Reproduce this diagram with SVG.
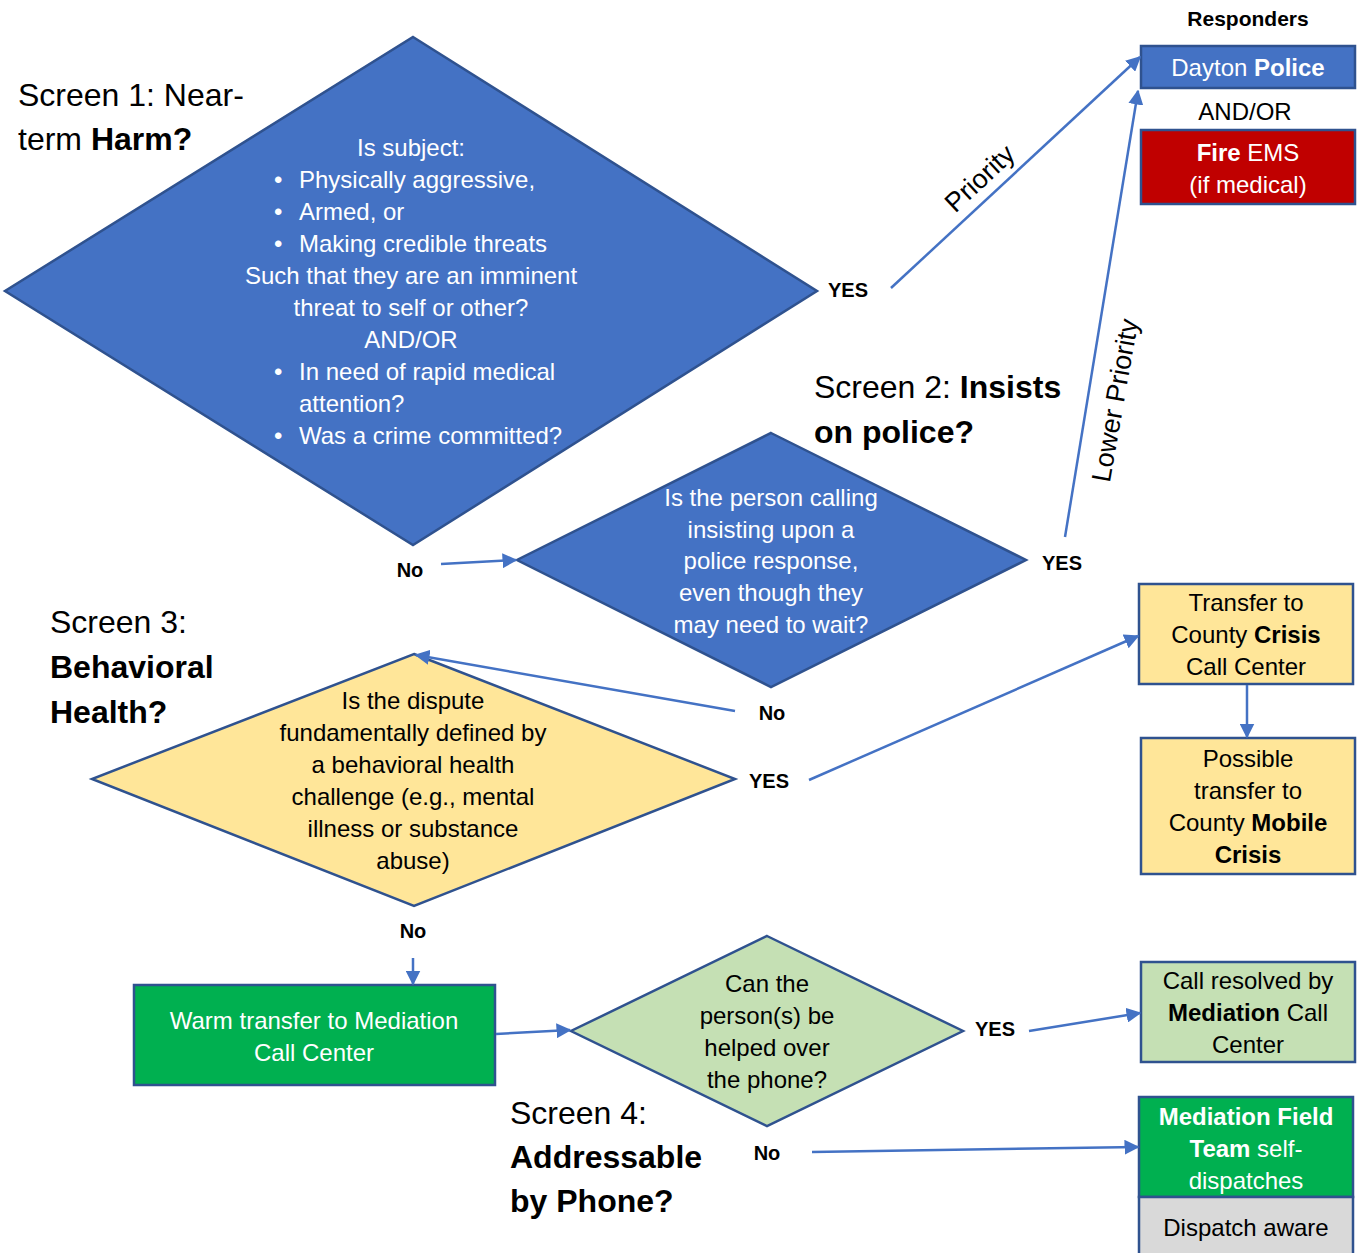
<svg xmlns="http://www.w3.org/2000/svg" width="1361" height="1253" viewBox="0 0 1361 1253">
<defs>
<marker id="ah" viewBox="0 0 10 10" refX="9" refY="5" markerWidth="6" markerHeight="6" markerUnits="strokeWidth" orient="auto">
<path d="M0,0 L10,5 L0,10 z" fill="#4472C4"/>
</marker>
<style>
text{font-family:"Liberation Sans",Arial,sans-serif;}
.t{font-size:24px;text-anchor:middle;}
.w{fill:#FFFFFF;}
.k{fill:#000000;}
.b{font-weight:bold;}
.lbl{font-size:20px;font-weight:bold;text-anchor:middle;fill:#000;}
.ttl{font-size:32px;fill:#000;}
.shape{stroke:#2F528F;stroke-width:2.5;}
.conn line{stroke:#4472C4;stroke-width:2.5;marker-end:url(#ah);}
.rot{font-size:27px;text-anchor:middle;fill:#000;}
</style>
</defs>
<rect width="1361" height="1253" fill="#FFFFFF"/>

<g id="titles">
<text class="ttl" x="18" y="106">Screen 1: Near-</text>
<text class="ttl" x="18" y="150">term <tspan class="b">Harm?</tspan></text>
<text class="ttl" x="814" y="398">Screen 2: <tspan class="b">Insists</tspan></text>
<text class="ttl b" x="814" y="443">on police?</text>
<text class="ttl" x="50" y="633">Screen 3:</text>
<text class="ttl b" x="50" y="678">Behavioral</text>
<text class="ttl b" x="50" y="723">Health?</text>
<text class="ttl" x="510" y="1124">Screen 4:</text>
<text class="ttl b" x="510" y="1168">Addressable</text>
<text class="ttl b" x="510" y="1212">by Phone?</text>
<text x="1248" y="26" font-size="21" font-weight="bold" text-anchor="middle">Responders</text>
</g>

<g id="screen1">
<polygon class="shape" points="413,37 817,291 413,545 5,291" fill="#4472C4"/>
<text class="t w" x="411" y="156">Is subject:</text>
<g style="text-anchor:start" font-size="24" fill="#fff">
<text x="274" y="188">•</text><text x="299" y="188">Physically aggressive,</text>
<text x="274" y="220">•</text><text x="299" y="220">Armed, or</text>
<text x="274" y="252">•</text><text x="299" y="252">Making credible threats</text>
</g>
<text class="t w" x="411" y="284">Such that they are an imminent</text>
<text class="t w" x="411" y="316">threat to self or other?</text>
<text class="t w" x="411" y="348">AND/OR</text>
<g style="text-anchor:start" font-size="24" fill="#fff">
<text x="274" y="380">•</text><text x="299" y="380">In need of rapid medical</text>
<text x="299" y="412">attention?</text>
<text x="274" y="444">•</text><text x="299" y="444">Was a crime committed?</text>
</g>
</g>

<g id="screen2">
<polygon class="shape" points="771,433 1026,560 771,687 517,560" fill="#4472C4"/>
<text class="t w" x="771" y="506">Is the person calling</text>
<text class="t w" x="771" y="538">insisting upon a</text>
<text class="t w" x="771" y="569">police response,</text>
<text class="t w" x="771" y="601">even though they</text>
<text class="t w" x="771" y="633">may need to wait?</text>
</g>

<g id="screen3">
<polygon class="shape" points="414,654 735,779 414,906 92,779" fill="#FFE699"/>
<text class="t k" x="413" y="709">Is the dispute</text>
<text class="t k" x="413" y="741">fundamentally defined by</text>
<text class="t k" x="413" y="773">a behavioral health</text>
<text class="t k" x="413" y="805">challenge (e.g., mental</text>
<text class="t k" x="413" y="837">illness or substance</text>
<text class="t k" x="413" y="869">abuse)</text>
</g>

<g id="screen4">
<polygon class="shape" points="767,936 963,1031 767,1126 571,1031" fill="#C5E0B4"/>
<text class="t k" x="767" y="992">Can the</text>
<text class="t k" x="767" y="1024">person(s) be</text>
<text class="t k" x="767" y="1056">helped over</text>
<text class="t k" x="767" y="1088">the phone?</text>
</g>

<g id="warm-transfer">
<rect class="shape" x="134" y="985" width="361" height="100" fill="#00B050"/>
<text class="t w" x="314" y="1029">Warm transfer to Mediation</text>
<text class="t w" x="314" y="1061">Call Center</text>
</g>

<g id="dayton-police">
<rect class="shape" x="1141" y="46" width="214" height="42" fill="#4472C4"/>
<text class="t w" x="1248" y="76">Dayton <tspan class="b">Police</tspan></text>
</g>
<text class="t k" x="1245" y="120">AND/OR</text>
<g id="fire-ems">
<rect class="shape" x="1141" y="130" width="214" height="74" fill="#C00000"/>
<text class="t w" x="1248" y="161"><tspan class="b">Fire</tspan> EMS</text>
<text class="t w" x="1248" y="193">(if medical)</text>
</g>

<g id="crisis-call-center">
<rect class="shape" x="1139" y="584" width="214" height="100" fill="#FFE699"/>
<text class="t k" x="1246" y="611">Transfer to</text>
<text class="t k" x="1246" y="643">County <tspan class="b">Crisis</tspan></text>
<text class="t k" x="1246" y="675">Call Center</text>
</g>

<g id="mobile-crisis">
<rect class="shape" x="1141" y="738" width="214" height="136" fill="#FFE699"/>
<text class="t k" x="1248" y="767">Possible</text>
<text class="t k" x="1248" y="799">transfer to</text>
<text class="t k" x="1248" y="831">County <tspan class="b">Mobile</tspan></text>
<text class="t k b" x="1248" y="863">Crisis</text>
</g>

<g id="call-resolved">
<rect class="shape" x="1141" y="962" width="214" height="100" fill="#C5E0B4"/>
<text class="t k" x="1248" y="989">Call resolved by</text>
<text class="t k" x="1248" y="1021"><tspan class="b">Mediation</tspan> Call</text>
<text class="t k" x="1248" y="1053">Center</text>
</g>

<g id="field-team">
<rect class="shape" x="1139" y="1097" width="214" height="100" fill="#00B050"/>
<text class="t w b" x="1246" y="1125">Mediation Field</text>
<text class="t w" x="1246" y="1157"><tspan class="b">Team</tspan> self-</text>
<text class="t w" x="1246" y="1189">dispatches</text>
</g>
<g id="dispatch-aware">
<rect class="shape" x="1139" y="1197" width="214" height="60" fill="#D9D9D9"/>
<text class="t k" x="1246" y="1236">Dispatch aware</text>
</g>

<g id="connectors" class="conn">
<line x1="891" y1="288" x2="1140" y2="57"/>
<line x1="1065" y1="537" x2="1138" y2="91"/>
<line x1="441" y1="564" x2="516" y2="560"/>
<line x1="735" y1="711" x2="416" y2="655"/>
<line x1="809" y1="780" x2="1138" y2="636"/>
<line x1="1247" y1="685" x2="1247" y2="737"/>
<line x1="413" y1="958" x2="413" y2="984"/>
<line x1="496" y1="1034" x2="570" y2="1030"/>
<line x1="1029" y1="1031" x2="1140" y2="1013"/>
<line x1="812" y1="1152" x2="1138" y2="1147"/>
</g>

<g id="connector-labels">
<text class="lbl" x="848" y="297">YES</text>
<text class="lbl" x="410" y="577">No</text>
<text class="lbl" x="1062" y="570">YES</text>
<text class="lbl" x="772" y="720">No</text>
<text class="lbl" x="769" y="788">YES</text>
<text class="lbl" x="413" y="938">No</text>
<text class="lbl" x="995" y="1036">YES</text>
<text class="lbl" x="767" y="1160">No</text>
<text class="rot" transform="translate(986,185) rotate(-43)">Priority</text>
<text class="rot" transform="translate(1124,402) rotate(-80)">Lower Priority</text>
</g>
</svg>
